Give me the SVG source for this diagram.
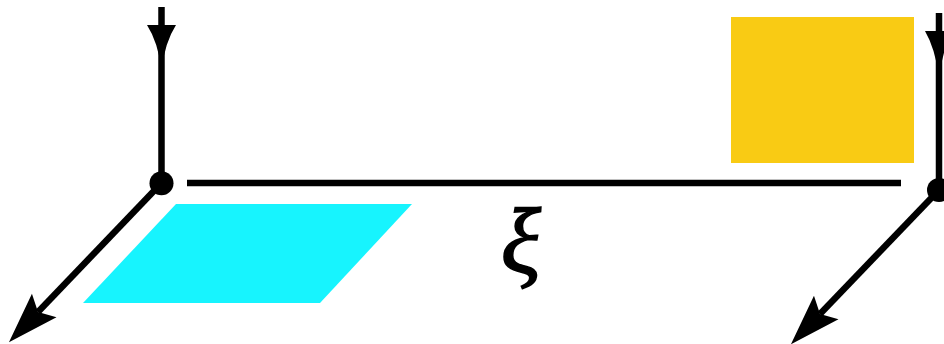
<svg xmlns="http://www.w3.org/2000/svg" width="944" height="344" viewBox="0 0 944 344">
  <style>
    .ln { stroke: #000; stroke-width: 6.5; fill: none; }
    .hd { fill: #000; stroke: none; }
    .lbl { font-family: "Liberation Serif", "DejaVu Serif", serif; font-style: italic; font-size: 94px; fill: #000; stroke: #000; stroke-width: 1.5; }
  </style>
  <defs>
    <marker id="ah" viewBox="-12 -18 56 36" refX="0" refY="0" markerWidth="56" markerHeight="36" orient="auto" markerUnits="userSpaceOnUse">
      <path d="M42,0 L-9,-17 L0,0 L-9,17 Z" fill="#000"/>
    </marker>
  </defs>
  <g id="shapes">
    <polygon id="cyan-plane" points="176,204 412,204 320,303 83,303" fill="#17F4FE"/>
    <rect id="yellow-box" x="731" y="17" width="183" height="146" fill="#F9CB14"/>
  </g>
  <g id="connectors">
    <line class="ln" x1="187" y1="183" x2="901" y2="183"/>
    <line class="ln" x1="161.5" y1="7" x2="161.5" y2="183"/>
    <path class="hd" d="M147,25 L176,25 Q165,42 161.5,70 Q158,42 147,25 Z"/>
    <line class="ln" x1="161.5" y1="183" x2="38" y2="312" marker-end="url(#ah)"/>
    <line class="ln" x1="939" y1="13" x2="939" y2="190"/>
    <path class="hd" d="M925,31 L953,31 Q943,48 939,77 Q935,48 925,31 Z"/>
    <line class="ln" x1="939" y1="190" x2="820" y2="314" marker-end="url(#ah)"/>
  </g>
  <g id="node-left">
    <circle cx="161.5" cy="183.3" r="12" fill="#000"/>
  </g>
  <g id="node-right">
    <circle cx="939" cy="190" r="12" fill="#000"/>
  </g>
  <g id="label">
    <text class="lbl" x="521" y="272" text-anchor="middle">ξ</text>
  </g>
</svg>
